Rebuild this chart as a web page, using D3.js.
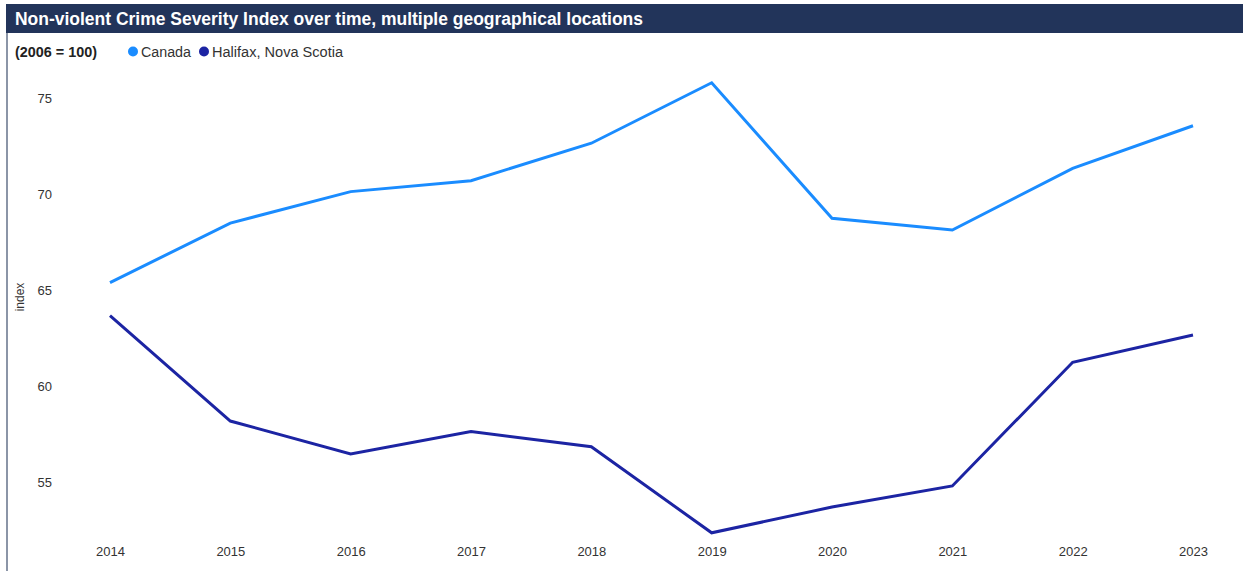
<!DOCTYPE html>
<html>
<head>
<meta charset="utf-8">
<script src="https://cdn.jsdelivr.net/npm/d3@7"></script>
<style>
  body { margin: 0; background: #fff; }
  svg { display: block; font-family: "Liberation Sans", Arial, sans-serif; }
</style>
</head>
<body>
<div id="chart"></div>
<script>
// chart data
const years = [2014, 2015, 2016, 2017, 2018, 2019, 2020, 2021, 2022, 2023];
const canada = [65.4, 68.5, 70.14, 70.71, 72.66, 75.81, 68.75, 68.14, 71.35, 73.57];
const halifax = [63.68, 58.19, 56.48, 57.64, 56.85, 52.37, 53.71, 54.81, 61.25, 62.67];
const yTicks = [55, 60, 65, 70, 75];
const seriesNames = ["Canada", "Halifax, Nova Scotia"];
const seriesColors = ["#1a8cff", "#1c24a3"];

let width = 1245;
let height = 571;

let svg = d3.select('#chart').append('svg')
  .attr('width', width)
  .attr('height', height);

// frame: left border + title bar
svg.append('line')
  .attr('x1', 7).attr('x2', 7)
  .attr('y1', 4).attr('y2', height)
  .attr('stroke', '#8b95a7')
  .attr('stroke-width', 2);

svg.append('rect')
  .attr('x', 6).attr('y', 4)
  .attr('width', width - 8).attr('height', 29)
  .attr('fill', '#22345a');

svg.append('text')
  .attr('x', 15).attr('y', 24.5)
  .attr('fill', '#fff')
  .attr('font-size', 18)
  .attr('font-weight', 'bold')
  .attr('textLength', 628)
  .attr('lengthAdjust', 'spacingAndGlyphs')
  .text('Non-violent Crime Severity Index over time, multiple geographical locations');

svg.append('text')
  .attr('x', 15).attr('y', 56.5)
  .attr('fill', '#222')
  .attr('font-size', 14)
  .attr('font-weight', 'bold')
  .attr('textLength', 82)
  .attr('lengthAdjust', 'spacingAndGlyphs')
  .text('(2006 = 100)');

// legend
let legendX = [133, 204];
let legendW = [50, 131];
let legend = svg.append('g');
seriesNames.forEach((name, i) => {
  legend.append('circle')
    .attr('cx', legendX[i]).attr('cy', 51.5)
    .attr('r', 5)
    .attr('fill', seriesColors[i]);
  legend.append('text')
    .attr('x', legendX[i] + 8).attr('y', 56.5)
    .attr('fill', '#333')
    .attr('font-size', 14)
    .attr('textLength', legendW[i])
    .attr('lengthAdjust', 'spacingAndGlyphs')
    .text(name);
});

// scales
let x = d3.scalePoint()
  .domain(years)
  .range([110, 1193]);

let y = d3.scaleLinear()
  .domain([55, 75])
  .range([482.3, 98.3]);

// axes (no domain lines, no tick marks)
let yAxis = svg.append('g')
  .attr('transform', 'translate(52,0)')
  .call(d3.axisLeft(y).tickValues(yTicks).tickSize(0).tickPadding(0));
yAxis.select('.domain').remove();
yAxis.selectAll('text')
  .attr('font-size', 13)
  .attr('fill', '#333')
  .attr('font-family', '"Liberation Sans", Arial, sans-serif');

let xAxis = svg.append('g')
  .attr('transform', 'translate(0,547)')
  .call(d3.axisBottom(x).tickSize(0).tickPadding(0).tickFormat(d3.format('d')));
xAxis.select('.domain').remove();
xAxis.selectAll('text')
  .attr('font-size', 13)
  .attr('fill', '#333')
  .attr('font-family', '"Liberation Sans", Arial, sans-serif');

svg.append('text')
  .attr('transform', 'translate(24,297) rotate(-90)')
  .attr('text-anchor', 'middle')
  .attr('font-size', 12)
  .attr('fill', '#333')
  .text('index');

// lines
let line = d3.line()
  .x((d, i) => x(years[i]))
  .y(d => y(d));

[canada, halifax].forEach((values, i) => {
  svg.append('path')
    .datum(values)
    .attr('d', line)
    .attr('fill', 'none')
    .attr('stroke', seriesColors[i])
    .attr('stroke-width', 3)
    .attr('stroke-linejoin', 'miter');
});
</script>
</body>
</html>
